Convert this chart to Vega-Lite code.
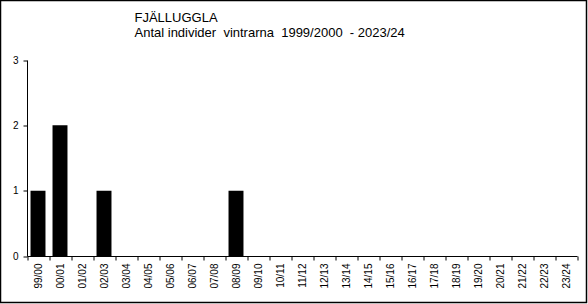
{
  "$schema": "https://vega.github.io/schema/vega-lite/v6.json",
  "autosize": {"type": "none"},
  "width": 586,
  "height": 302,
  "padding": {"left": 0.5, "top": 0.5, "right": 1.5, "bottom": 1.5},
  "background": "white",
  "title": {
    "text": "FJÄLLUGGLA",
    "subtitle": "Antal individer\u00a0 vintrarna\u00a0 1999/2000\u00a0 - 2023/24",
    "anchor": "start",
    "frame": "group",
    "orient": "top",
    "dx": 134,
    "offset": -39,
    "font": "Liberation Sans",
    "subtitleFont": "Liberation Sans",
    "fontSize": 13,
    "subtitleFontSize": 13,
    "fontWeight": "normal",
    "color": "black",
    "subtitleColor": "black",
    "subtitlePadding": 2
  },
  "data": {
    "values": [
      {"season": "99/00", "count": 1},
      {"season": "00/01", "count": 2},
      {"season": "01/02", "count": 0},
      {"season": "02/03", "count": 1},
      {"season": "03/04", "count": 0},
      {"season": "04/05", "count": 0},
      {"season": "05/06", "count": 0},
      {"season": "06/07", "count": 0},
      {"season": "07/08", "count": 0},
      {"season": "08/09", "count": 1},
      {"season": "09/10", "count": 0},
      {"season": "10/11", "count": 0},
      {"season": "11/12", "count": 0},
      {"season": "12/13", "count": 0},
      {"season": "13/14", "count": 0},
      {"season": "14/15", "count": 0},
      {"season": "15/16", "count": 0},
      {"season": "16/17", "count": 0},
      {"season": "17/18", "count": 0},
      {"season": "18/19", "count": 0},
      {"season": "19/20", "count": 0},
      {"season": "20/21", "count": 0},
      {"season": "21/22", "count": 0},
      {"season": "22/23", "count": 0},
      {"season": "23/24", "count": 0}
    ]
  },
  "mark": {"type": "bar", "color": "black", "width": {"band": 0.68}},
  "encoding": {
    "x": {
      "field": "season",
      "type": "nominal",
      "sort": null,
      "scale": {"range": [26.5, 576.5], "paddingInner": 0, "paddingOuter": 0},
      "axis": {
        "title": null,
        "orient": "bottom",
        "offset": -46.5,
        "labelAngle": -90,
        "labelAlign": "right",
        "labelBaseline": "middle",
        "tickBand": "extent",
        "tickSize": 4,
        "labelPadding": 3,
        "labelFont": "Liberation Sans",
        "labelFontSize": 10,
        "labelColor": "black",
        "domainColor": "black",
        "tickColor": "black",
        "grid": false
      }
    },
    "y": {
      "field": "count",
      "type": "quantitative",
      "scale": {"domain": [0, 3], "range": [255.5, 59.5], "nice": false, "zero": true},
      "axis": {
        "title": null,
        "orient": "left",
        "offset": -26.5,
        "values": [0, 1, 2, 3],
        "format": "d",
        "tickSize": 4,
        "labelPadding": 5,
        "labelFont": "Liberation Sans",
        "labelFontSize": 10,
        "labelColor": "black",
        "domainColor": "black",
        "tickColor": "black",
        "grid": false
      }
    }
  },
  "config": {
    "view": {"stroke": "black", "strokeWidth": 1.5, "fill": "white"}
  }
}
